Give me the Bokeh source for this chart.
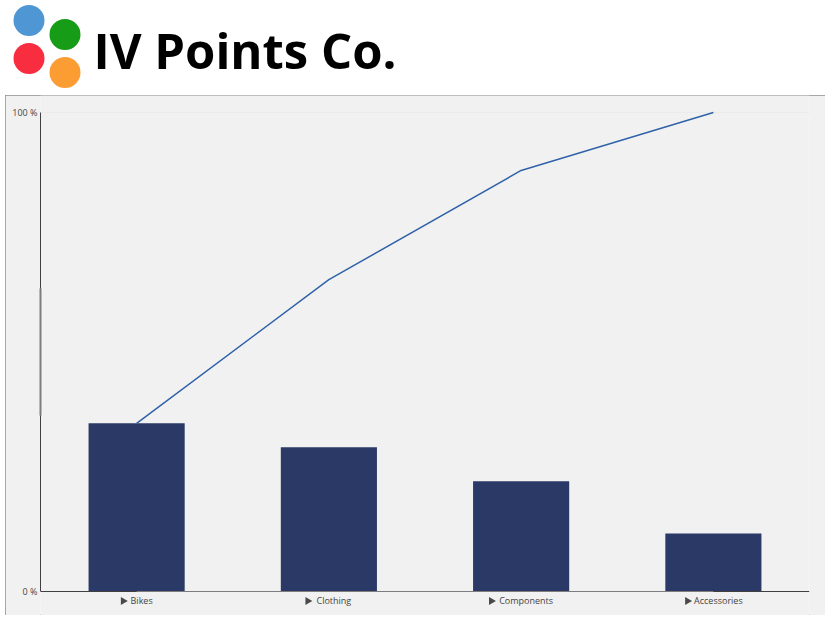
from bokeh.core.properties import value
from bokeh.embed import file_html
from bokeh.models import ColumnDataSource, FactorRange, FixedTicker, Range1d
from bokeh.plotting import figure
from bokeh.resources import INLINE
from bokeh.transform import dodge

categories = ["Bikes", "Clothing", "Components", "Accessories"]
share_pct = [35.1, 30.1, 23.0, 12.1]
cumulative_pct = [35.1, 65.1, 87.9, 100.0]
y_ticks = [0, 100]
y_tick_labels = {0: "0 %", 100: "100 %"}
y_axis_faded_span = [36.7, 63.3]

company = "IV Points Co."
logo_colors = ["#4f96d4", "#169c16", "#f92d40", "#fb9d33"]

BG = "#f1f1f1"
BAR = "#2b3966"
LINE = "#2f62a8"
AXIS_DARK = "#404040"
AXIS_FADED = "#7d7d7d"
TEXT = "#444444"
FONT = "Open Sans"

# Logo strip, drawn on a pixel-sized canvas
logo = figure(width=834, height=95, x_range=Range1d(0, 834), y_range=Range1d(95, 0),
              output_backend="svg", toolbar_location=None,
              x_axis_location=None, y_axis_location=None,
              min_border_left=0, min_border_right=0, min_border_top=0, min_border_bottom=0,
              outline_line_color=None, background_fill_color="white",
              border_fill_color="white", margin=(0, 0, 0, 0),
              styles={"position": "absolute", "left": "0px", "top": "0px"})
logo.grid.visible = False
logo.scatter(x=[28.5, 64.5, 28.5, 64.5], y=[20, 34, 58, 72], size=31,
             color=logo_colors, line_color=None)
logo.text(x=[93], y=[49.5], text=[company], text_font=value(FONT), text_font_style="bold",
          text_font_size="49px", text_color="black", text_baseline="alphabetic")

# Chart: the frame runs past y = 0 so the category labels live inside it
PX = 479 / 100
p = figure(width=820, height=520,
           x_range=FactorRange(factors=categories, range_padding=0),
           y_range=Range1d(-(615 - 591) / PX, 100 + (112 - 95) / PX),
           output_backend="svg", toolbar_location=None,
           min_border_left=35, min_border_right=16, min_border_top=0, min_border_bottom=0,
           background_fill_color=BG, border_fill_color=BG, outline_line_color=None,
           margin=(0, 0, 0, 0),
           styles={"position": "absolute", "left": "5px", "top": "95px",
                   "outline": "1px solid #8c8c8c", "outline-offset": "-1px"})
p.grid.visible = False

source = ColumnDataSource(dict(cat=categories, share=share_pct, cum=cumulative_pct))
p.hspan(y=[100], line_color="#ebebeb", line_width=1)
p.vbar(x="cat", top="share", bottom=0, width=0.5, source=source, color=BAR, line_color=None)
p.line(x="cat", y="cum", source=source, line_color=LINE, line_width=1.5)

marker_shift = {"Bikes": -0.07, "Clothing": -0.11, "Components": -0.155, "Accessories": -0.135}
for c in categories:
    one = ColumnDataSource(dict(cat=[c], y=[0], label=[c]))
    p.scatter(x=dodge("cat", marker_shift[c], range=p.x_range), y=-9.5 / PX, source=one,
              marker="triangle", angle=-1.5708, size=8, color="#4a4a4a", line_color=None)
    p.text(x="cat", y="y", text="label", source=one, x_offset=5, y_offset=9,
           text_align="center", text_baseline="middle", text_font=value(FONT),
           text_font_size="9px", text_color=TEXT)

yax = p.yaxis[0]
yax.ticker = FixedTicker(ticks=y_ticks)
yax.major_label_overrides = y_tick_labels
yax.bounds = (0, 100)
yax.axis_line_color = AXIS_DARK
yax.major_tick_in = 0
yax.major_tick_out = 0
yax.minor_tick_in = 0
yax.minor_tick_out = 0
yax.major_tick_line_color = None
yax.minor_tick_line_color = None
yax.major_label_text_font = FONT
yax.major_label_text_font_size = "9px"
yax.major_label_text_color = TEXT
yax.major_label_standoff = 3

xax = p.xaxis[0]
xax.fixed_location = 0
xax.ticker = FixedTicker(ticks=[])
xax.axis_line_color = AXIS_DARK
xax.major_tick_line_color = None
xax.minor_tick_line_color = None

# The axis lines fade to grey along part of their length
p.segment(x0=[categories[0]], y0=[0], x1=[categories[-1]], y1=[0],
          line_color=AXIS_FADED, line_width=1, level="overlay")
p.segment(x0=dodge("x", -0.5, range=p.x_range), x1=dodge("x", -0.5, range=p.x_range),
          y0="y0", y1="y1",
          source=ColumnDataSource(dict(x=[categories[0]], y0=[y_axis_faded_span[0]],
                                       y1=[y_axis_faded_span[1]])),
          line_color=AXIS_FADED, line_width=2, level="overlay")

open("out.html", "w").write(file_html([logo, p], INLINE))
